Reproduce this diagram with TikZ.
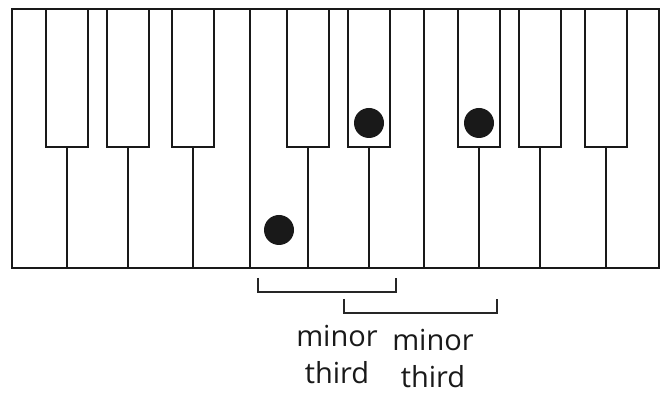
\documentclass[tikz,border=0pt]{standalone}
\usepackage{fontspec}
\setmainfont{Open Sans}
\usetikzlibrary{positioning}
\begin{document}
\begin{tikzpicture}[
        x=1pt, y=-1pt,
        keyline/.style={line width=2.3pt, draw=black!90},
        blackkey/.style={keyline, fill=white},
        notedot/.style={circle, fill=black!90, minimum size=30pt, inner sep=0pt},
        bracket/.style={line width=2.3pt, draw=black!85},
        intlabel/.style={font=\fontsize{29}{37}\selectfont, align=center,
                text=black!90, inner sep=0pt, anchor=north}
    ]
    \useasboundingbox (0,0) rectangle (662,395);

    % white keys
    \draw[keyline] (12,9) rectangle (659,268);
    \foreach \x in {250,424} \draw[keyline] (\x,9) -- (\x,268);

    % black keys with the divider below each
    \foreach \x in {67,128,193,308,369,479,540,606} {
        \draw[keyline] (\x,147) -- (\x,268);
        \draw[blackkey] (\x-21,9) rectangle (\x+21,147);
    }

    % pressed notes
    \node[notedot] (noteC) at (279,230) {};
    \node[notedot] (noteEb) at (369,123) {};
    \node[notedot] (noteFs) at (479,123) {};

    % brackets
    \draw[bracket] (258,278) -- (258,292) -- (396,292) -- (396,278);
    \draw[bracket] (344,299) -- (344,313) -- (497,313) -- (497,299);

    \node[intlabel] (thirdA) at (337,325) {minor\\third};
    \node[intlabel] (thirdB) at (433,329) {minor\\third};
\end{tikzpicture}
\end{document}
